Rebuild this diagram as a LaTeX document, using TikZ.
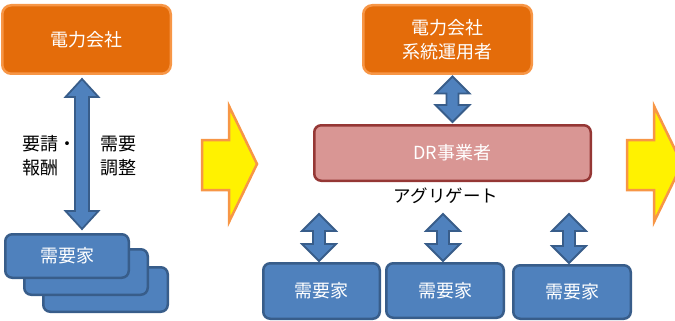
\documentclass[tikz,border=0pt]{standalone}
\usepackage{fontspec}
\newfontfamily\jp{Noto Sans CJK JP}
\usetikzlibrary{calc}
\definecolor{orgfill}{HTML}{E46C0A}
\definecolor{orgline}{HTML}{F79646}
\definecolor{bluefill}{HTML}{4F81BD}
\definecolor{blueline}{HTML}{385D8A}
\definecolor{drfill}{HTML}{D99694}
\definecolor{drline}{HTML}{953735}
\newcommand\dblfat[6]{%
  \draw[fatarr] let \p1=(#1), \p2=(#2), \p3=(#3) in
    (\x3,\y1) -- (\x3+#4pt,\y1-#5pt) -- (\x3+#6pt,\y1-#5pt) -- (\x3+#6pt,\y2+#5pt)
    -- (\x3+#4pt,\y2+#5pt) -- (\x3,\y2) -- (\x3-#4pt,\y2+#5pt) -- (\x3-#6pt,\y2+#5pt)
    -- (\x3-#6pt,\y1-#5pt) -- (\x3-#4pt,\y1-#5pt) -- cycle;}
\tikzset{
  base/.style={font=\jp\fontsize{18}{24}\selectfont, inner sep=0pt, align=center},
  orangebox/.style={base, rounded corners=9pt, fill=orgfill, draw=orgline, line width=2.5pt, text=white},
  bluebox/.style={base, rounded corners=7pt, fill=bluefill, draw=blueline, line width=2.5pt, text=white},
  drbox/.style={base, rounded corners=7pt, fill=drfill, draw=drline, line width=2.5pt, text=white},
  fatarr/.style={fill=bluefill, draw=blueline, line width=1.8pt, line join=miter},
  yarrow/.style={fill=yellow, draw=orgline, line width=2.5pt, line join=miter},
  lbl/.style={base, text=black}
}
\begin{document}
\begin{tikzpicture}[x=1pt,y=-1pt]
\useasboundingbox (0,0) rectangle (675,321);
\clip (0,0) rectangle (675,321);
% left part
\node[orangebox, minimum width=168.5pt, minimum height=68.5pt] (A) at (86.5,39.5) {電力会社};
\node[bluebox, minimum width=124.5pt, minimum height=44.5pt] (C3) at (105.5,289.5) {};
\node[bluebox, minimum width=123.5pt, minimum height=45.5pt] (C2) at (86,272) {};
\node[bluebox, minimum width=123.5pt, minimum height=43.5pt] (C1) at (67,256) {需要家};
\dblfat{[yshift=-4pt]A.south}{[yshift=4pt]C1.north}{[xshift=15pt]C1.north}{16.5}{18}{7}
\node[lbl, align=left, anchor=west] (L1) at (22,156) {要請・\\報酬};
\node[lbl, align=left] (L2) at (118,156) {需要\\調整};
% big arrows
\draw[yarrow] (202,140) -- (229,140) -- (229,106) -- (257,164) -- (229,222) -- (229,190) -- (202,190) -- cycle;
\draw[yarrow] (627,140) -- (654,140) -- (654,106) -- (682,164) -- (654,222) -- (654,190) -- (627,190) -- cycle;
% middle part
\node[orangebox, minimum width=168.5pt, minimum height=68.5pt] (B) at (447.5,39.5) {電力会社\\系統運用者};
\node[drbox, minimum width=276.5pt, minimum height=55.5pt] (DR) at (452.5,153) {DR事業者};
\node[lbl, font=\jp\fontsize{17.5}{20}\selectfont] (AG) at (446,196) {アグリゲート};
\node[bluebox, minimum width=116.5pt, minimum height=55.5pt] (D1) at (321.5,291) {需要家};
\node[bluebox, minimum width=117.5pt, minimum height=54.5pt] (D2) at (445,290.5) {需要家};
\node[bluebox, minimum width=117.5pt, minimum height=53.5pt] (D3) at (572,292) {需要家};
\dblfat{[yshift=-1.5pt]B.south}{[yshift=2pt]DR.north}{DR.north}{17}{17}{6}
\dblfat{[yshift=-32pt]DR.south}{[yshift=1pt]D1.north}{[xshift=-2.5pt]D1.north}{17}{17}{6}
\dblfat{[yshift=-32pt]DR.south}{[yshift=1pt]D2.north}{[xshift=-2pt]D2.north}{17}{17}{6}
\dblfat{[yshift=-32pt]DR.south}{[yshift=1pt]D3.north}{[xshift=-3pt]D3.north}{17}{17}{6}
\end{tikzpicture}
\end{document}
